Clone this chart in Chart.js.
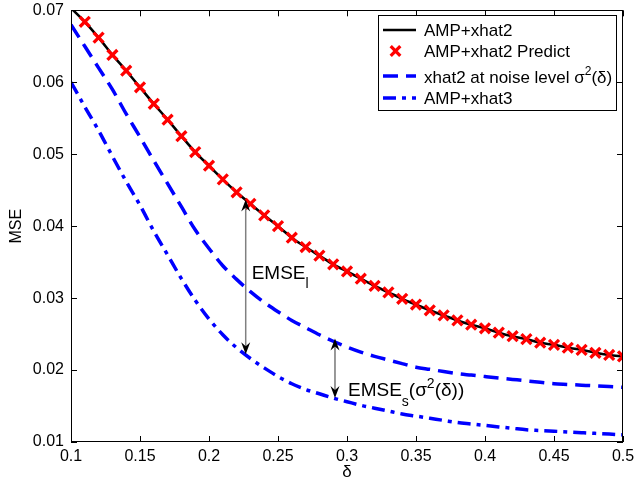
<!DOCTYPE html>
<html><head><meta charset="utf-8">
<script src="https://cdn.jsdelivr.net/npm/chart.js@4.4.1/dist/chart.umd.min.js"></script>
<style>html,body{margin:0;padding:0;background:#fff;}#wrap{width:636px;height:486px;}</style>
</head><body><div id="wrap"><canvas id="c" width="636" height="486"></canvas></div>
<script>
// ---- data ----
const deltas = [0.10,0.11,0.12,0.13,0.14,0.15,0.16,0.17,0.18,0.19,0.20,0.21,0.22,0.23,0.24,0.25,0.26,0.27,0.28,0.29,0.30,0.31,0.32,0.33,0.34,0.35,0.36,0.37,0.38,0.39,0.40,0.41,0.42,0.43,0.44,0.45,0.46,0.47,0.48,0.49,0.50];
const mseAmpXhat2 = [0.0703,0.0684,0.0662,0.0638,0.0616,0.0593,0.0570,0.0548,0.0525,0.0503,0.0484,0.0465,0.0447,0.0431,0.0415,0.0400,0.0384,0.0371,0.0359,0.0347,0.0337,0.0327,0.0317,0.0308,0.0299,0.0291,0.0283,0.0276,0.0269,0.0263,0.0258,0.0252,0.0247,0.0243,0.0238,0.0235,0.0231,0.0228,0.0224,0.0221,0.0219];
const predDeltas = [0.11,0.12,0.13,0.14,0.15,0.16,0.17,0.18,0.19,0.20,0.21,0.22,0.23,0.24,0.25,0.26,0.27,0.28,0.29,0.30,0.31,0.32,0.33,0.34,0.35,0.36,0.37,0.38,0.39,0.40,0.41,0.42,0.43,0.44,0.45,0.46,0.47,0.48,0.49,0.50];
const mseAmpXhat2Predict = [0.0684,0.0662,0.0638,0.0616,0.0593,0.0570,0.0548,0.0525,0.0503,0.0484,0.0465,0.0447,0.0431,0.0415,0.0400,0.0384,0.0371,0.0359,0.0347,0.0337,0.0327,0.0317,0.0308,0.0299,0.0291,0.0283,0.0276,0.0269,0.0263,0.0258,0.0252,0.0247,0.0243,0.0238,0.0235,0.0231,0.0228,0.0224,0.0221,0.0219];
const mseXhat2Noise = [0.0680,0.0650,0.0620,0.0590,0.0556,0.0524,0.0491,0.0459,0.0427,0.0395,0.0369,0.0345,0.0326,0.0309,0.0294,0.0281,0.0269,0.0259,0.0249,0.0240,0.0232,0.0225,0.0219,0.0214,0.0209,0.0204,0.0201,0.0198,0.0195,0.0193,0.0191,0.0189,0.0187,0.0185,0.0183,0.0181,0.0180,0.0179,0.0178,0.0177,0.0176];
const mseAmpXhat3 = [0.0600,0.0566,0.0533,0.0497,0.0462,0.0429,0.0393,0.0360,0.0327,0.0297,0.0271,0.0249,0.0231,0.0216,0.0203,0.0191,0.0181,0.0173,0.0167,0.0161,0.0156,0.0151,0.0147,0.0143,0.0139,0.0136,0.0133,0.0130,0.0127,0.0125,0.0123,0.0121,0.0119,0.0117,0.0116,0.0115,0.0114,0.0113,0.0112,0.0111,0.0110];
const seriesLabels = ['AMP+xhat2','AMP+xhat2 Predict','xhat2 at noise level σ^2(δ)','AMP+xhat3'];
const xTicks = [0.1,0.15,0.2,0.25,0.3,0.35,0.4,0.45,0.5];
const xTickLabels = ['0.1','0.15','0.2','0.25','0.3','0.35','0.4','0.45','0.5'];
const yTicks = [0.01,0.02,0.03,0.04,0.05,0.06,0.07];
const yTickLabels = ['0.01','0.02','0.03','0.04','0.05','0.06','0.07'];
// annotation arrows (data coords) and labels
const arrowDelta = [0.2266, 0.2913];
const arrowTop = [0.0437, 0.0244];
const arrowBottom = [0.0222, 0.0161];
const noteTexts = ['EMSE_l', 'EMSE_s(σ^2(δ))'];
const noteDelta = [0.2309, 0.3007];
const noteMse = [0.0327, 0.01634];

// ---- styling ----
const FONT = '"Liberation Sans", Arial, Helvetica, sans-serif';
Chart.defaults.font.family = FONT;
Chart.defaults.color = '#000';
const pts = (xs, ys) => xs.map((x, i) => ({x: x, y: ys[i]}));
const BLUE = '#0000ff', RED = '#ff0000';
const DASH = [15, 8], DASHDOT = [13, 6, 4, 6];

function drawRich(ctx, str, x, y, size) {
  let i = 0;
  while (i < str.length) {
    const ch = str[i];
    if (ch === '^' || ch === '_') {
      i++;
      let content;
      if (str[i] === '{') { const j = str.indexOf('}', i); content = str.slice(i + 1, j); i = j + 1; }
      else { content = str[i]; i++; }
      const sz = Math.round(size * 0.72);
      ctx.font = sz + 'px ' + FONT;
      const dy = ch === '^' ? -size * 0.45 : size * 0.5;
      ctx.fillText(content, x, y + dy);
      x += ctx.measureText(content).width;
    } else {
      let j = i;
      while (j < str.length && str[j] !== '^' && str[j] !== '_') j++;
      const seg = str.slice(i, j);
      ctx.font = size + 'px ' + FONT;
      ctx.fillText(seg, x, y);
      x += ctx.measureText(seg).width;
      i = j;
    }
  }
}

function arrowHead(ctx, x, y, dir) { // dir=-1 tip points up, +1 tip points down
  ctx.beginPath();
  ctx.moveTo(x, y);
  ctx.lineTo(x - 4.5, y - dir * 12);
  ctx.lineTo(x, y - dir * 8);
  ctx.lineTo(x + 4.5, y - dir * 12);
  ctx.closePath();
  ctx.fillStyle = '#000';
  ctx.fill();
}

const decor = {
  id: 'decor',
  afterDraw(chart) {
    const ctx = chart.ctx, a = chart.chartArea;
    const xs = chart.scales.x, ys = chart.scales.y;
    ctx.save();
    ctx.strokeStyle = '#000'; ctx.lineWidth = 1;
    ctx.strokeRect(Math.round(a.left) + 0.5, Math.round(a.top) + 0.5, Math.round(a.right - a.left) - 1, Math.round(a.bottom - a.top) - 1);
    const TL = 6;
    ctx.beginPath();
    xTicks.forEach(v => {
      const px = Math.round(xs.getPixelForValue(v)) + 0.5;
      ctx.moveTo(px, a.bottom); ctx.lineTo(px, a.bottom - TL);
      ctx.moveTo(px, a.top); ctx.lineTo(px, a.top + TL);
    });
    yTicks.forEach(v => {
      const py = Math.round(ys.getPixelForValue(v)) + 0.5;
      ctx.moveTo(a.left, py); ctx.lineTo(a.left + TL, py);
      ctx.moveTo(a.right, py); ctx.lineTo(a.right - TL, py);
    });
    ctx.stroke();
    arrowDelta.forEach((d, i) => {
      const px = xs.getPixelForValue(d);
      const y1 = ys.getPixelForValue(arrowTop[i]);
      const y2 = ys.getPixelForValue(arrowBottom[i]);
      ctx.beginPath();
      ctx.strokeStyle = i === 0 ? '#808080' : '#333';
      ctx.lineWidth = i === 0 ? 1.5 : 1;
      ctx.moveTo(px, y1 + 6); ctx.lineTo(px, y2 - 6);
      ctx.stroke();
      arrowHead(ctx, px, y1, -1);
      arrowHead(ctx, px, y2, 1);
    });
    ctx.fillStyle = '#000'; ctx.textBaseline = 'alphabetic'; ctx.textAlign = 'left';
    noteTexts.forEach((t, i) => {
      drawRich(ctx, t, xs.getPixelForValue(noteDelta[i]), ys.getPixelForValue(noteMse[i]), 19);
    });
    const L = {x: 378, y: 15, w: 238, h: 95};
    ctx.fillStyle = '#fff';
    ctx.fillRect(L.x, L.y, L.w, L.h);
    ctx.strokeStyle = '#000'; ctx.lineWidth = 1;
    ctx.strokeRect(L.x + 0.5, L.y + 0.5, L.w, L.h);
    const rowY = [30, 51, 76, 98];
    const baseY = [36, 57, 83, 104];
    const x0 = 383, x1 = 416, tx = 424;
    chart.data.datasets.forEach((ds, i) => {
      const y = rowY[i];
      if (ds.showLine !== false) {
        ctx.beginPath();
        ctx.setLineDash(ds.borderDash || []);
        ctx.strokeStyle = ds.borderColor; ctx.lineWidth = ds.borderWidth;
        ctx.moveTo(x0, y); ctx.lineTo(x1, y); ctx.stroke();
        ctx.setLineDash([]);
      } else {
        const cx = (x0 + x1) / 2 - 4, r = 4.8;
        ctx.beginPath();
        ctx.strokeStyle = ds.pointBorderColor; ctx.lineWidth = ds.pointBorderWidth;
        ctx.moveTo(cx - r, y - r); ctx.lineTo(cx + r, y + r);
        ctx.moveTo(cx + r, y - r); ctx.lineTo(cx - r, y + r);
        ctx.stroke();
      }
      ctx.fillStyle = '#000';
      drawRich(ctx, ds.label, tx, baseY[i], 17);
    });
    ctx.restore();
  }
};

new Chart(document.getElementById('c'), {
  type: 'line',
  data: {
    datasets: [
      {label: seriesLabels[0], data: pts(deltas, mseAmpXhat2), borderColor: '#000', borderWidth: 2.6, pointRadius: 0, cubicInterpolationMode: 'monotone', order: 2},
      {label: seriesLabels[1], data: pts(predDeltas, mseAmpXhat2Predict), showLine: false, pointStyle: 'crossRot', pointRadius: 7, pointBorderWidth: 3.3, pointBorderColor: RED, pointBackgroundColor: RED, borderColor: RED, order: 0},
      {label: seriesLabels[2], data: pts(deltas, mseXhat2Noise), borderColor: BLUE, borderWidth: 3.5, borderDash: DASH, pointRadius: 0, cubicInterpolationMode: 'monotone', order: 3},
      {label: seriesLabels[3], data: pts(deltas, mseAmpXhat3), borderColor: BLUE, borderWidth: 3.5, borderDash: DASHDOT, pointRadius: 0, cubicInterpolationMode: 'monotone', order: 4}
    ]
  },
  options: {
    responsive: false,
    animation: false,
    events: [],
    devicePixelRatio: 1,
    layout: {padding: {top: 7, right: 13, left: 0, bottom: 0}},
    plugins: {legend: {display: false}, tooltip: {enabled: false}},
    scales: {
      x: {
        type: 'linear', min: 0.1, max: 0.5,
        grid: {display: false, drawTicks: false}, border: {display: false},
        afterBuildTicks: s => { s.ticks = xTicks.map(v => ({value: v})); },
        afterFit: s => { s.height = 44; s.paddingLeft = 0; s.paddingRight = 0; },
        ticks: {font: {size: 16}, padding: 5, maxRotation: 0, autoSkip: false, callback: (v, i) => xTickLabels[i]},
        title: {display: true, text: 'δ', font: {size: 17}, padding: {top: 0, bottom: 3}}
      },
      y: {
        type: 'linear', min: 0.01, max: 0.07,
        grid: {display: false, drawTicks: false}, border: {display: false},
        afterBuildTicks: s => { s.ticks = yTicks.map(v => ({value: v})); },
        afterFit: s => { s.width = 71; s.paddingTop = 0; s.paddingBottom = 0; },
        ticks: {font: {size: 16}, padding: 7, autoSkip: false, callback: (v, i) => yTickLabels[i]},
        title: {display: true, text: 'MSE', font: {size: 16}, padding: {top: 7, bottom: 0}}
      }
    }
  },
  plugins: [decor]
});
</script></body></html>
